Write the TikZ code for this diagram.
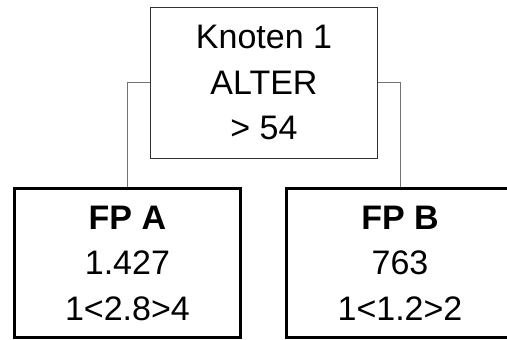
\documentclass[tikz,border=0pt]{standalone}
\usepackage{fontspec}
\setmainfont{Liberation Sans}
\begin{document}
\begin{tikzpicture}[x=1pt, y=1pt,
    split/.style={draw=black!80, line width=1pt, minimum width=226.6pt, minimum height=151pt, align=center, font=\fontsize{34}{45.5}\selectfont},
    leaf/.style={draw=black, line width=3pt, minimum width=226.7pt, minimum height=149.5pt, align=center, font=\fontsize{34}{45.5}\selectfont},
    branch/.style={draw=black!55, line width=1pt}]
    % Bounding box
    \useasboundingbox (0,0) rectangle (507,340);

    % Split node
    \node[split] (knoten) at (264, 257.2) {Knoten 1\\ALTER\\> 54};

    % Leaf nodes
    \node[leaf] (fpa) at (127.4, 76.8) {\textbf{FP A}\\1.427\\1<2.8>4};
    \node[leaf] (fpb) at (400, 76.8) {\textbf{FP B}\\763\\1<1.2>2};

    % Branches
    \draw[branch] (knoten.west) -| (fpa.north);
    \draw[branch] (knoten.east) -| (fpb.north);
\end{tikzpicture}
\end{document}
